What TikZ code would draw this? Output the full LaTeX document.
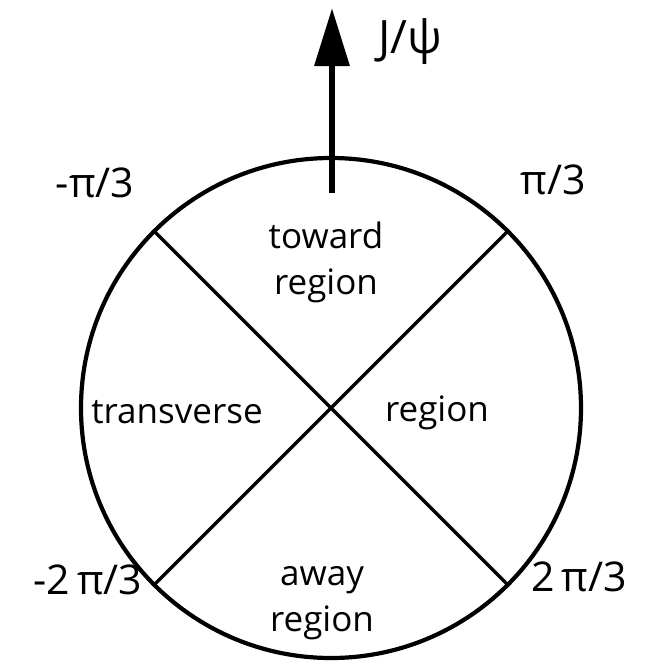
\documentclass[tikz,border=0pt]{standalone}
\usepackage{fontspec}
\setmainfont{Open Sans}
\usetikzlibrary{arrows.meta,calc}
\begin{document}
\begin{tikzpicture}[x=1pt,y=-1pt,
  lbl/.style={font=\fontsize{35}{40}\selectfont, inner sep=0pt, align=center},
  anglbl/.style={font=\fontsize{41}{44}\selectfont, inner sep=0pt},
  rim/.style={line width=4.2pt},
  divider/.style={line width=3.2pt},
  dirarrow/.style={line width=6.5pt, -{Triangle[length=58pt,width=34pt]}}]
\useasboundingbox (0,0) rectangle (649,662);
\coordinate (c) at (331,408);
\draw[rim] (c) circle (250);
\coordinate (ul) at ($(c)+(-176.8,-176.8)$);
\coordinate (ur) at ($(c)+(176.8,-176.8)$);
\coordinate (ll) at ($(c)+(-176.8,176.8)$);
\coordinate (lr) at ($(c)+(176.8,176.8)$);
\draw[divider] (ul) -- (lr);
\draw[divider] (ur) -- (ll);
\coordinate (abot) at (332,193);
\coordinate (atop) at (332,8);
\draw[dirarrow] (abot) -- (atop);
\node[lbl, font=\fontsize{46}{50}\selectfont] (jpsi) at (410,42) {J/ψ};
\node[anglbl] (mpi3) at (95,183) {-π/3};
\node[anglbl] (pi3) at (553,180) {π/3};
\node[anglbl] (m2pi3) at (88,580) {-2\,π/3};
\node[anglbl] (p2pi3) at (579,577) {2\,π/3};
\node[lbl] (toward) at (326,262) {toward\\[6pt]region};
\node[lbl] (trans) at (177,412) {transverse};
\node[lbl] (rregion) at (437,413) {region};
\node[lbl] (away) at (322,603) {away\\[6pt]region};
\end{tikzpicture}
\end{document}
